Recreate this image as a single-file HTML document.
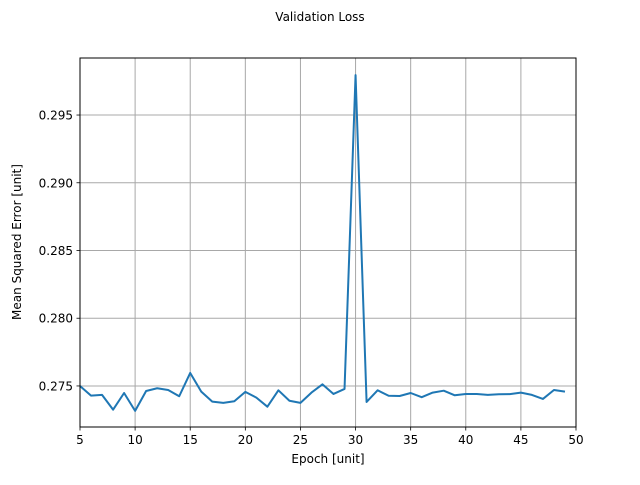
<!DOCTYPE html>
<html><head><meta charset="utf-8"><style>
body{margin:0;background:#fff;}
svg text{font-family:"DejaVu Sans","Liberation Sans",sans-serif;fill:#000;}
</style></head><body>
<svg id="chart" width="640" height="480" xmlns="http://www.w3.org/2000/svg">
<rect width="640" height="480" fill="#fff"/>
<text x="320" y="21" font-size="12" text-anchor="middle">Validation Loss</text>
<g id="grid"></g>
<path id="line" fill="none" stroke="#1f77b4" stroke-width="2" stroke-linejoin="round"/>
<rect x="80" y="58" width="496" height="369" fill="none" stroke="#000" stroke-width="1"/>
<g id="ticks"></g>
<text x="328" y="463" font-size="12" text-anchor="middle">Epoch [unit]</text>
<text transform="translate(21,242) rotate(-90)" font-size="12" text-anchor="middle">Mean Squared Error [unit]</text>
</svg>
<script>
const epochs=[5,6,7,8,9,10,11,12,13,14,15,16,17,18,19,20,21,22,23,24,25,26,27,28,29,30,31,32,33,34,35,36,37,38,39,40,41,42,43,44,45,46,47,48,49];
const losses=[0.2750,0.27429,0.27434,0.27325,0.27448,0.27316,0.27463,0.27483,0.27470,0.27424,0.27596,0.27458,0.27384,0.27375,0.27387,0.27456,0.27414,0.27347,0.27468,0.27391,0.27375,0.27451,0.27512,0.27441,0.27478,0.29795,0.27382,0.27468,0.27428,0.27426,0.27448,0.27417,0.27451,0.27465,0.27431,0.27441,0.27441,0.27434,0.27439,0.27440,0.27451,0.27434,0.27404,0.27470,0.27458];
const xTicks=[5,10,15,20,25,30,35,40,45,50];
const yTicks=[0.275,0.280,0.285,0.290,0.295];
const yTickLabels=["0.275","0.280","0.285","0.290","0.295"];
const X0=80,X1=576,Y0=427,Y1=58;
const xMin=5,xMax=50,yMin=0.27197,yMax=0.29921;
const sx=v=>X0+(v-xMin)/(xMax-xMin)*(X1-X0);
const sy=v=>Y0-(v-yMin)/(yMax-yMin)*(Y0-Y1);
const NS="http://www.w3.org/2000/svg";
const grid=document.getElementById('grid'),ticks=document.getElementById('ticks');
function mk(tag,attrs,parent){const e=document.createElementNS(NS,tag);for(const k in attrs)e.setAttribute(k,attrs[k]);parent.appendChild(e);return e;}
xTicks.forEach(t=>{const x=sx(t);
 const g=mk('line',{x1:x,x2:x,y1:Y1,y2:Y0,stroke:'#a8a8a8','stroke-width':1},grid);
 
 
 const tk=mk('line',{x1:x,x2:x,y1:Y0,y2:Y0+3.5,stroke:'#000','stroke-width':0.8},ticks);
 
 
 const tx=mk('text',{x:x,y:Y0+17,'font-size':12,'text-anchor':'middle'},ticks);tx.textContent=t;
 
 
});
yTicks.forEach((t,i)=>{const y=sy(t);
 const g=mk('line',{x1:X0,x2:X1,y1:y,y2:y,stroke:'#a8a8a8','stroke-width':1},grid);
 
 
 const tk=mk('line',{x1:X0-3.5,x2:X0,y1:y,y2:y,stroke:'#000','stroke-width':0.8},ticks);
 
 
 const tx=mk('text',{x:X0-7,y:y+4.5,'font-size':12,'text-anchor':'end'},ticks);tx.textContent=yTickLabels[i];
 
 
});
document.getElementById('line').setAttribute('d',epochs.map((e,i)=>(i?'L':'M')+sx(e).toFixed(2)+','+sy(losses[i]).toFixed(2)).join(''));
</script>
</body></html>
